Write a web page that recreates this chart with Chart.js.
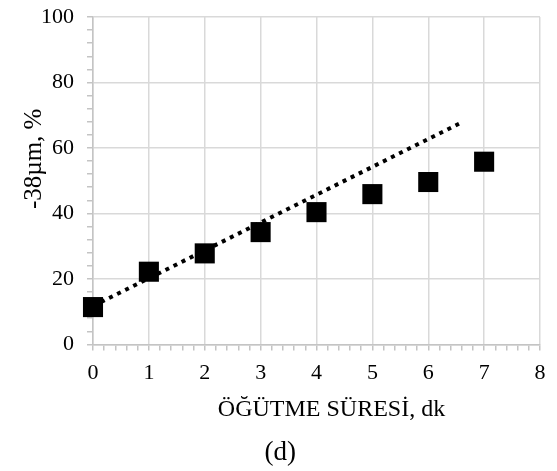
<!DOCTYPE html>
<html>
<head>
<meta charset="utf-8">
<script src="https://cdn.jsdelivr.net/npm/chart.js@4/dist/chart.umd.min.js"></script>
<style>
  html, body { margin: 0; padding: 0; background: #fff; }
  #wrap { width: 557px; height: 471px; }
</style>
</head>
<body>
<div id="wrap"><canvas id="c" width="557" height="471"></canvas></div>
<script>
// ---- data ----
const timesMin = [0, 1, 2, 3, 4, 5, 6, 7];
const passing38 = [11.4, 22.2, 27.8, 34.3, 40.4, 45.9, 49.6, 55.8];
const trendX = [0, 6.55];
const trendY = [11.7, 67.4];
const xTickValues = [0, 1, 2, 3, 4, 5, 6, 7, 8];
const xTickLabels = ['0', '1', '2', '3', '4', '5', '6', '7', '8'];
const yTickValues = [0, 20, 40, 60, 80, 100];
const yTickLabels = ['0', '20', '40', '60', '80', '100'];
const xTitle = 'ÖĞÜTME SÜRESİ, dk';
const yTitle = '-38µm, %';
const caption = '(d)';

const NB = '\u00A0';
const FONT = "'Liberation Serif', 'Times New Roman', serif";
const GRID = '#d9d9d9';
const TICKC = '#c4c4c4';

function majorIndex(values, v) {
  for (let i = 0; i < values.length; i++) {
    if (Math.abs(values[i] - v) < 1e-6) return i;
  }
  return -1;
}

const scatterPts = timesMin.map((x, i) => ({ x: x, y: passing38[i] }));
const trendPts = trendX.map((x, i) => ({ x: x, y: trendY[i] }));

new Chart(document.getElementById('c'), {
  type: 'scatter',
  data: {
    datasets: [
      {
        type: 'scatter',
        data: scatterPts,
        pointStyle: 'rect',
        pointRadius: 14.2,
        pointHoverRadius: 14.2,
        backgroundColor: '#000',
        borderWidth: 0,
        clip: false,
        order: 1
      },
      {
        type: 'line',
        data: trendPts,
        borderColor: '#000',
        borderWidth: 4,
        borderDash: [4, 5],
        pointRadius: 0,
        fill: false,
        clip: false,
        order: 2
      }
    ]
  },
  options: {
    responsive: false,
    animation: false,
    layout: { padding: { left: 0, right: 17, top: 17, bottom: 0 } },
    plugins: {
      legend: { display: false },
      tooltip: { enabled: false },
      title: {
        display: true,
        position: 'bottom',
        text: NB + NB + NB + caption,
        color: '#000',
        font: { family: FONT, size: 27, weight: 'normal' },
        padding: { top: 0, bottom: 2 }
      }
    },
    scales: {
      x: {
        type: 'linear',
        min: 0,
        max: 8,
        afterFit: (s) => { s.height = 92.2; },
        ticks: {
          stepSize: 0.2,
          autoSkip: false,
          maxRotation: 0,
          padding: 10,
          color: '#000',
          font: { family: FONT, size: 22 },
          callback: (v) => { const i = majorIndex(xTickValues, v); return i >= 0 ? xTickLabels[i] : ''; }
        },
        grid: {
          drawTicks: true,
          tickLength: 6,
          lineWidth: 1.5,
          color: (ctx) => (ctx.tick && majorIndex(xTickValues, ctx.tick.value) >= 0) ? GRID : 'rgba(0,0,0,0)',
          tickColor: TICKC,
          tickWidth: 1.5
        },
        border: { display: true, color: TICKC, width: 1.5 },
        title: {
          display: true,
          text: NB + NB + NB + NB + NB + xTitle,
          color: '#000',
          font: { family: FONT, size: 24 },
          padding: { top: 0, bottom: 12.8 }
        }
      },
      y: {
        type: 'linear',
        min: 0,
        max: 100,
        afterFit: (s) => { s.width = 93; s.paddingTop = 0; s.paddingBottom = 0; },
        ticks: {
          stepSize: 4,
          autoSkip: false,
          padding: 13,
          color: '#000',
          font: { family: FONT, size: 22 },
          callback: (v) => { const i = majorIndex(yTickValues, v); return i >= 0 ? yTickLabels[i] : ''; }
        },
        grid: {
          drawTicks: true,
          tickLength: 6,
          lineWidth: 1.5,
          color: (ctx) => (ctx.tick && majorIndex(yTickValues, ctx.tick.value) >= 0) ? GRID : 'rgba(0,0,0,0)',
          tickColor: TICKC,
          tickWidth: 1.5
        },
        border: { display: true, color: TICKC, width: 1.5 },
        title: {
          display: true,
          text: NB + NB + NB + NB + NB + NB + NB + yTitle,
          color: '#000',
          font: { family: FONT, size: 25 },
          padding: { top: 19, bottom: 0 }
        }
      }
    }
  }
});
</script>
</body>
</html>
